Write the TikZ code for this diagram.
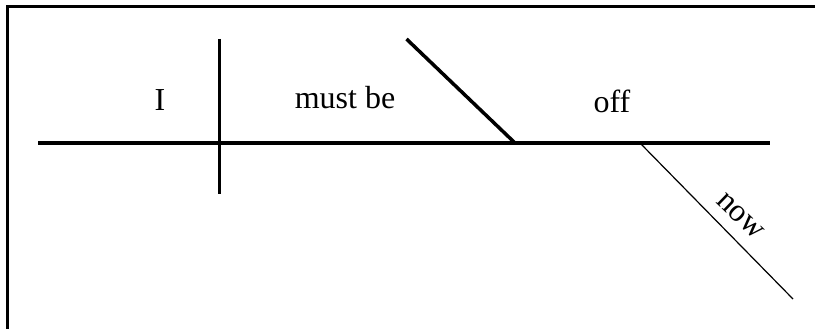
\documentclass[tikz,border=0pt]{standalone}
\usepackage{fontspec}
\setmainfont{Liberation Serif}
\begin{document}
\begin{tikzpicture}[x=1pt,y=-1pt,
  thick line/.style={line width=3.5pt},
  thin line/.style={line width=1.2pt},
  word/.style={font=\fontsize{32}{36}\selectfont, inner sep=0pt}]
\useasboundingbox (0,0) rectangle (815,329);
\coordinate (fl) at (7,329);
\coordinate (fc) at (7,7);
\coordinate (fr) at (815,7);
\draw[line width=3pt] (fl) -- (fc) -- (fr);
\coordinate (ml) at (38,143);
\coordinate (mr) at (770,143);
\draw[thick line] (ml) -- (mr);
\coordinate (vt) at (219.5,39);
\coordinate (vb) at (219.5,194);
\draw[thick line] (vt) -- (vb);
\coordinate (st) at (406.5,39);
\coordinate (sb) at (515,143);
\draw[thick line] (st) -- (sb);
\coordinate (nt) at (640,143);
\coordinate (nb) at (793,299);
\draw[thin line] (nt) -- (nb);
\node[word] (I) at (160,100) {I};
\node[word] (mb) at (345,98) {must be};
\node[word] (off) at (612,101) {off};
\node[word, rotate=-44] (now) at (740,216) {now};
\end{tikzpicture}
\end{document}
